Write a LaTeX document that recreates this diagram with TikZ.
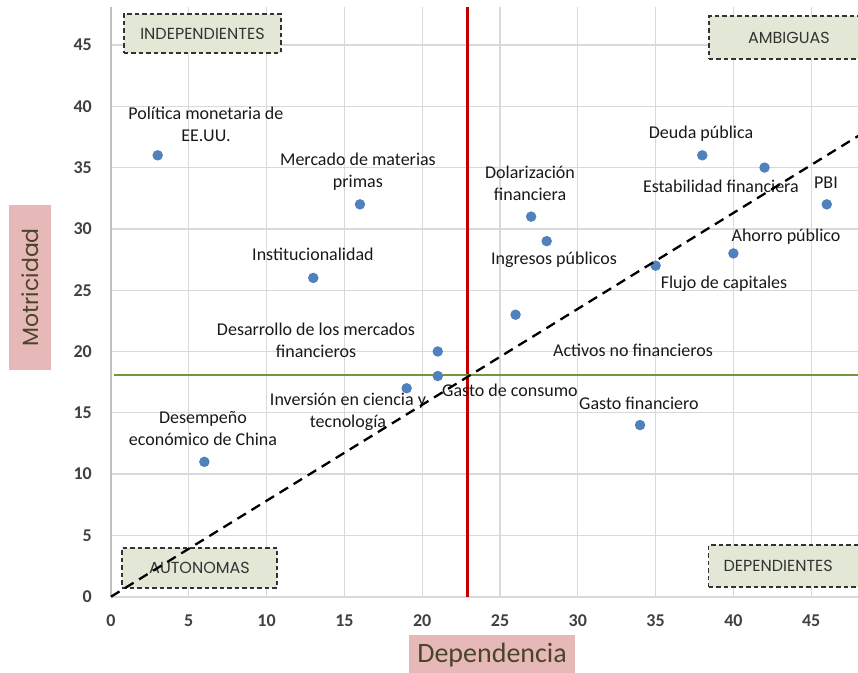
\documentclass[tikz,border=0pt]{standalone}
\usepackage{fontspec}
\setmainfont{Carlito}
\newfontfamily\geofont{Poppins}
\usetikzlibrary{arrows, arrows.meta}
\usetikzlibrary{calc}

\definecolor{gridgray}{HTML}{D9D9D9}
\definecolor{axisgray}{HTML}{BFBFBF}
\definecolor{dotblue}{HTML}{4F81BD}
\definecolor{cutred}{HTML}{C00000}
\definecolor{cutgreen}{HTML}{77933C}
\definecolor{quadfill}{HTML}{E3E8D6}
\definecolor{titlefill}{HTML}{E6B9B8}
\definecolor{titletext}{HTML}{4A452A}
\definecolor{ticktext}{HTML}{404040}

\begin{document}
\begin{tikzpicture}[x=15.56pt, y=12.26pt,
    dot/.style={circle, fill=dotblue, inner sep=0pt, minimum size=10.5pt},
    lbl/.style={align=center, inner sep=0pt, text=black!90, font=\fontsize{18}{22}\selectfont},
    quad/.style={draw=black!80, fill=quadfill, line width=1.1pt, dash pattern=on 4.5pt off 3pt,
      inner sep=0pt, text=black!80, font=\geofont\fontsize{16}{18}\selectfont},
    axtitle/.style={fill=titlefill, inner sep=0pt, text=titletext},
    tick/.style={inner sep=0pt, text=ticktext, font=\bfseries\fontsize{18}{20}\selectfont}]
      \useasboundingbox (-7.134, -6.223) rectangle (48.008, 48.67);

      % grid and axes
      \foreach \v in {5,10,...,45} {
        \draw[gridgray, line width=1.3pt] (\v,0) -- (\v,48.1);
        \draw[gridgray, line width=1.3pt] (0,\v) -- (48.1,\v);
      }
      \draw[axisgray, line width=1.3pt] (0,0) -- (0,48.1);
      \draw[gridgray, line width=2pt] (0,0) -- (48.1,0);

      % tick labels
      \foreach \v in {0,5,...,45} {
        \node[tick, anchor=east] (y\v) at (-1.22,\v) {\v};
        \node[tick] (x\v) at (\v,-1.99) {\v};
      }

      % quadrant boxes
      \node[quad, minimum width=157pt, minimum height=39pt] (indep) at (5.88,45.94) {INDEPENDIENTES};
      \node[quad, minimum width=160pt, minimum height=43pt] (ambig) at (43.57,45.61) {AMBIGUAS};
      \node[quad, minimum width=155pt, minimum height=40pt] (auton) at (5.69,2.34) {AUTONOMAS};
      \node[quad, anchor=west, inner xsep=15pt, text width=140pt, align=left, minimum height=42pt] (depen) at (38.37,2.50) {DEPENDIENTES};

      % cut lines
      \coordinate (rtop) at (22.92,48.1);
      \coordinate (rbot) at (22.92,0);
      \coordinate (gleft) at (0.2,18.08);
      \coordinate (gright) at (48.1,18.08);
      \draw[cutred, line width=2.6pt] (rbot) -- (rtop);
      \draw[cutgreen, line width=2.4pt] (gleft) -- (gright);

      % points
      \node[dot] (pm) at (3,36) {};
      \node[dot] (mmp) at (16,32) {};
      \node[dot] (inst) at (13,26) {};
      \node[dot] (dmf) at (21,20) {};
      \node[dot] (gc) at (21,18) {};
      \node[dot] (icy) at (19,17) {};
      \node[dot] (china) at (6,11) {};
      \node[dot] (dol) at (27,31) {};
      \node[dot] (ing) at (28,29) {};
      \node[dot] (anf) at (26,23) {};
      \node[dot] (deuda) at (38,36) {};
      \node[dot] (estab) at (42,35) {};
      \node[dot] (pbi) at (46,32) {};
      \node[dot] (ahorro) at (40,28) {};
      \node[dot] (flujo) at (35,27) {};
      \node[dot] (gf) at (34,14) {};

      % labels
      \node[lbl] (pm-l) at (6.1,38.5) {Política monetaria de\\EE.UU.};
      \node[lbl] (mmp-l) at (15.87,34.7) {Mercado de materias\\primas};
      \node[lbl] (inst-l) at (12.98,27.9) {Institucionalidad};
      \node[lbl] (dmf-l) at (13.17,20.9) {Desarrollo de los mercados\\financieros};
      \node[lbl] (icy-l) at (15.23,15.1) {Inversión en ciencia y\\tecnología};
      \node[lbl] (china-l) at (5.91,13.7) {Desempeño\\económico de China};
      \node[lbl] (gc-l) at (25.64,16.86) {Gasto de consumo};
      \node[lbl] (gf-l) at (33.93,15.8) {Gasto financiero};
      \node[lbl] (anf-l) at (33.55,20.1) {Activos no financieros};
      \node[lbl] (dol-l) at (26.93,33.7) {Dolarización\\financiera};
      \node[lbl] (ing-l) at (28.47,27.5) {Ingresos públicos};
      \node[lbl] (deuda-l) at (37.92,37.8) {Deuda pública};
      \node[lbl] (estab-l) at (39.2,33.5) {Estabilidad financiera};
      \node[lbl] (pbi-l) at (45.95,33.8) {PBI};
      \node[lbl] (ahorro-l) at (43.38,29.4) {Ahorro público};
      \node[lbl] (flujo-l) at (39.4,25.5) {Flujo de capitales};

      % trend line
      \coordinate (o) at (0,0);
      \coordinate (tend) at (48.1,37.64);
      \draw[black, line width=2.3pt, dash pattern=on 10pt off 6.5pt] (o) -- (tend);

      % axis titles
      \node[axtitle, minimum width=166pt, minimum height=40pt, font=\fontsize{28}{30}\selectfont] (dep) at (24.49,-4.75) {Dependencia};
      \node[axtitle, rotate=90, minimum width=165pt, minimum height=42pt, font=\geofont\fontsize{22}{24}\selectfont] (mot) at (-5.206,25.24) {Motricidad};
    \end{tikzpicture}
\end{document}
